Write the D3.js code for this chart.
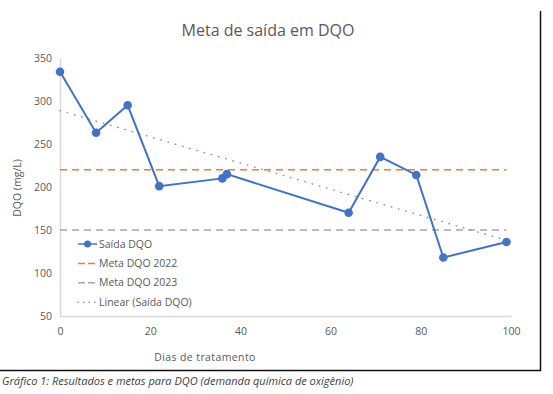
<!DOCTYPE html>
<html>
<head>
<meta charset="utf-8">
<script src="https://cdn.jsdelivr.net/npm/d3@7"></script>
<style>
  body { margin: 0; background: #fff; }
  svg { display: block; font-family: 'Open Sans', Lato, sans-serif; }
</style>
</head>
<body>
<div class="canvas"></div>
<script>
// data
const dias = [0, 8, 15, 22, 36, 37, 64, 71, 79, 85, 99];
const saida = [334, 263, 295, 201, 210, 215, 170, 235, 214, 118, 136];
const meta2022 = [220, 220];
const meta2023 = [150, 150];
const metaDias = [0, 99];
const xTicks = [0, 20, 40, 60, 80, 100];
const yTicks = [50, 100, 150, 200, 250, 300, 350];
const legendLabels = ['Saída DQO', 'Meta DQO 2022', 'Meta DQO 2023', 'Linear (Saída DQO)'];

const dims = { w: 553, h: 394 };
const plot = { left: 60, right: 511, top: 58, bottom: 316 };

const svg = d3.select('.canvas')
  .append('svg')
    .attr('width', dims.w)
    .attr('height', dims.h);

// scales
const x = d3.scaleLinear().domain([0, 100]).range([plot.left, plot.right]);
const y = d3.scaleLinear().domain([50, 350]).range([plot.bottom, plot.top]);

// frame (only right and bottom edges visible in the crop)
svg.append('path')
  .attr('d', `M540.5,11 V370.5 H0`)
  .attr('fill', 'none')
  .attr('stroke', '#111')
  .attr('stroke-width', 1.5);

// title
svg.append('text')
  .attr('x', 268).attr('y', 36)
  .attr('text-anchor', 'middle')
  .attr('font-size', 16)
  .attr('fill', '#595959')
  .text('Meta de saída em DQO');

// axes
const xAxis = d3.axisBottom(x).tickValues(xTicks).tickSize(0).tickPadding(12);
const yAxis = d3.axisLeft(y).tickValues(yTicks).tickSize(0).tickPadding(8);

const gx = svg.append('g')
  .attr('transform', `translate(0,${plot.bottom})`)
  .call(xAxis);
const gy = svg.append('g')
  .attr('transform', `translate(${plot.left},0)`)
  .call(yAxis);

[gx, gy].forEach(g => {
  g.select('.domain').attr('stroke', '#d9d9d9').attr('stroke-width', 1.5);
  g.selectAll('text')
    .attr('font-family', "'Open Sans', Lato, sans-serif")
    .attr('font-size', 10.5)
    .attr('fill', '#595959');
});

// axis titles
svg.append('text')
  .attr('x', 205).attr('y', 361)
  .attr('text-anchor', 'middle')
  .attr('font-size', 10.5)
  .attr('letter-spacing', 0.4)
  .attr('fill', '#595959')
  .text('Dias de tratamento');

svg.append('text')
  .attr('transform', 'translate(21,188) rotate(-90)')
  .attr('text-anchor', 'middle')
  .attr('font-size', 10.5)
  .attr('fill', '#595959')
  .text('DQO (mg/L)');

// linear trend (least squares on Saída DQO)
const mx = d3.mean(dias), my = d3.mean(saida);
const slope = d3.sum(dias, (d, i) => (d - mx) * (saida[i] - my)) / d3.sum(dias, d => (d - mx) ** 2);
const intercept = my - slope * mx;
const trend = metaDias.map(d => [d, intercept + slope * d]);

const line = d3.line().x(d => x(d[0])).y(d => y(d[1]));

const graph = svg.append('g');

graph.append('path')
  .attr('d', line(metaDias.map((d, i) => [d, meta2022[i]])))
  .attr('stroke', '#ED7D31').attr('stroke-width', 1.5)
  .attr('stroke-dasharray', '7,5').attr('fill', 'none');

graph.append('path')
  .attr('d', line(metaDias.map((d, i) => [d, meta2023[i]])))
  .attr('stroke', '#A5A5A5').attr('stroke-width', 1.5)
  .attr('stroke-dasharray', '7,5').attr('fill', 'none');

graph.append('path')
  .attr('d', line(trend))
  .attr('stroke', '#8c8c8c').attr('stroke-width', 1.4)
  .attr('stroke-linecap', 'round')
  .attr('stroke-dasharray', '0.5,7').attr('fill', 'none');

const pts = dias.map((d, i) => [d, saida[i]]);

graph.append('path')
  .attr('d', line(pts))
  .attr('stroke', '#4472C4').attr('stroke-width', 2)
  .attr('fill', 'none');

graph.selectAll('circle')
  .data(pts)
  .enter()
  .append('circle')
    .attr('cx', d => x(d[0]))
    .attr('cy', d => y(d[1]))
    .attr('r', 4.3)
    .attr('fill', '#4472C4');

// legend
const legend = svg.append('g').attr('transform', 'translate(78,244)');
const styles = [
  { stroke: '#4472C4', dash: null, marker: true },
  { stroke: '#ED7D31', dash: '7,3' },
  { stroke: '#A5A5A5', dash: '7,3' },
  { stroke: '#8c8c8c', dash: '0.5,5', cap: 'round' }
];

const items = legend.selectAll('g')
  .data(legendLabels)
  .enter()
  .append('g')
    .attr('transform', (d, i) => `translate(0,${i * 19.4})`);

items.append('line')
  .attr('x1', 0).attr('x2', 19)
  .attr('stroke', (d, i) => styles[i].stroke)
  .attr('stroke-width', (d, i) => i === 3 ? 1.3 : 1.5)
  .attr('stroke-linecap', (d, i) => styles[i].cap || 'butt')
  .attr('stroke-dasharray', (d, i) => styles[i].dash);

items.filter((d, i) => styles[i].marker)
  .append('circle')
    .attr('cx', 9.5).attr('r', 3.5)
    .attr('fill', '#4472C4');

items.append('text')
  .attr('x', 21).attr('dy', '0.35em')
  .attr('font-size', 10.5)
  .attr('fill', '#595959')
  .text(d => d);

// caption
svg.append('text')
  .attr('x', 2).attr('y', 385)
  .attr('font-size', 11)
  .attr('font-style', 'italic')
  .attr('fill', '#404040')
  .text('Gráfico 1: Resultados e metas para DQO (demanda química de oxigênio)');
</script>
</body>
</html>
